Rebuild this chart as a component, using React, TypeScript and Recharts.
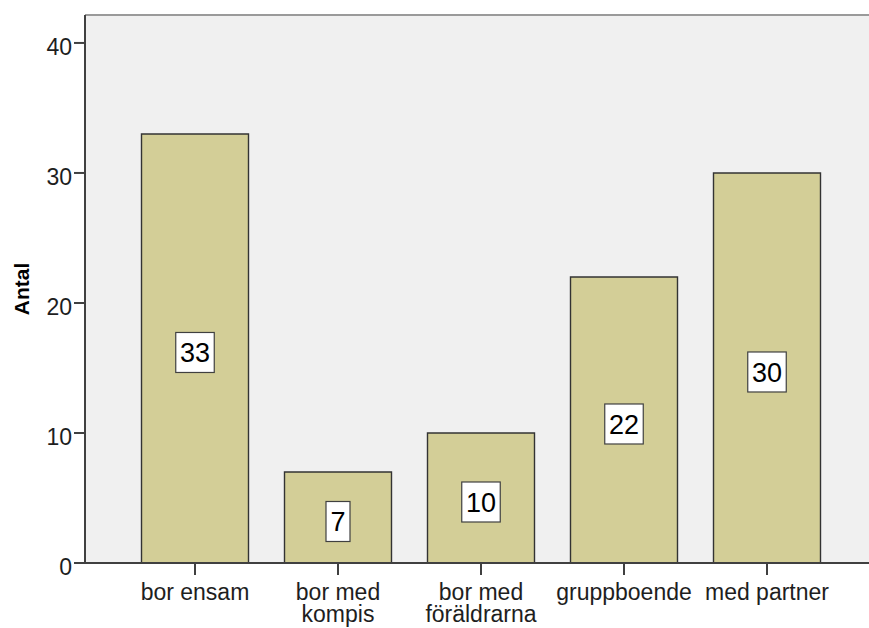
import { Bar, BarChart, CartesianGrid, Label, LabelList, ReferenceLine, XAxis, YAxis } from 'recharts';

const categories = ['bor ensam', 'bor med kompis', 'bor med föräldrarna', 'gruppboende', 'med partner'];
const counts = [33, 7, 10, 22, 30];
const yTicks = [0, 10, 20, 30, 40];
const yMax = 42.15;

const data = categories.map((name, i) => ({ name, antal: counts[i] }));

const font = '"Liberation Sans", Arial, sans-serif';
const axisColor = '#404040';
const barFill = '#D3CE97';
const tickFontSize = 23;

// greedy word wrap using canvas text metrics
const measureCtx = document.createElement('canvas').getContext('2d');
function wrapWords(label: string, maxWidth: number): string[] {
  if (!measureCtx) return [label];
  measureCtx.font = `${tickFontSize}px ${font}`;
  const lines: string[] = [];
  let current = '';
  for (const word of label.split(' ')) {
    const next = current ? `${current} ${word}` : word;
    if (current && measureCtx.measureText(next).width > maxWidth) {
      lines.push(current);
      current = word;
    } else {
      current = next;
    }
  }
  if (current) lines.push(current);
  return lines;
}

function CategoryTick({ x, y, payload }: any) {
  const lines = wrapWords(String(payload.value), 140);
  return (
    <text x={x} y={y + 23} textAnchor="middle" fontSize={tickFontSize} fontFamily={font} fill="#1e1e1e">
      {lines.map((line, i) => (
        <tspan key={i} x={x} dy={i === 0 ? 0 : 22}>
          {line}
        </tspan>
      ))}
    </text>
  );
}

function CountTick({ x, y, payload }: any) {
  return (
    <text x={x} y={y + 4} textAnchor="end" dominantBaseline="central" fontSize={tickFontSize} fontFamily={font} fill="#1e1e1e">
      {payload.value}
    </text>
  );
}

// white box with the count, placed in the middle of each bar
function CountBox(props: any) {
  const { x, y, width, height, value } = props;
  const label = String(value);
  const boxW = label.length * 14.5 + 9.5;
  const boxH = 40;
  const cx = x + width / 2;
  const cy = y + height / 2 + 4;
  return (
    <g>
      <rect x={cx - boxW / 2} y={cy - boxH / 2} width={boxW} height={boxH} fill="#ffffff" stroke="#404040" strokeWidth={1.2} />
      <text x={cx} y={cy + 1} textAnchor="middle" dominantBaseline="central" fontSize={27} fontFamily={font} fill="#000">
        {label}
      </text>
    </g>
  );
}

export default function App() {
  return (
    <div style={{ position: 'absolute', left: 0, top: 0, width: 869, height: 628, background: '#fff' }}>
      <BarChart width={869} height={628} data={data} margin={{ top: 15, right: 0, bottom: 0, left: 0 }}>
        <CartesianGrid fill="#F0F0F0" horizontal={false} vertical={false} />
        <XAxis
          dataKey="name"
          height={65}
          padding={{ left: 38.5, right: 30.5 }}
          tick={<CategoryTick />}
          tickSize={12}
          tickMargin={2}
          interval={0}
          axisLine={{ stroke: axisColor, strokeWidth: 2 }}
          tickLine={{ stroke: axisColor, strokeWidth: 2 }}
        />
        <YAxis
          width={85}
          domain={[0, yMax]}
          ticks={yTicks}
          tick={<CountTick />}
          tickSize={11}
          tickMargin={2}
          axisLine={{ stroke: axisColor, strokeWidth: 2 }}
          tickLine={{ stroke: axisColor, strokeWidth: 2 }}
        >
          <Label
            content={({ viewBox }: any) => (
              <text
                transform={`translate(${viewBox.x + 21}, ${viewBox.y + viewBox.height / 2}) rotate(-90)`}
                textAnchor="middle"
                dominantBaseline="central"
                fontSize={21}
                fontWeight="bold"
                fontFamily={font}
                fill="#000"
              >
                Antal
              </text>
            )}
          />
        </YAxis>
        <ReferenceLine y={yMax} stroke="#9a9a9a" strokeWidth={2} />
        <Bar dataKey="antal" fill={barFill} stroke="#333333" strokeWidth={1.4} barSize={107} isAnimationActive={false}>
          <LabelList dataKey="antal" content={<CountBox />} />
        </Bar>
      </BarChart>
    </div>
  );
}
